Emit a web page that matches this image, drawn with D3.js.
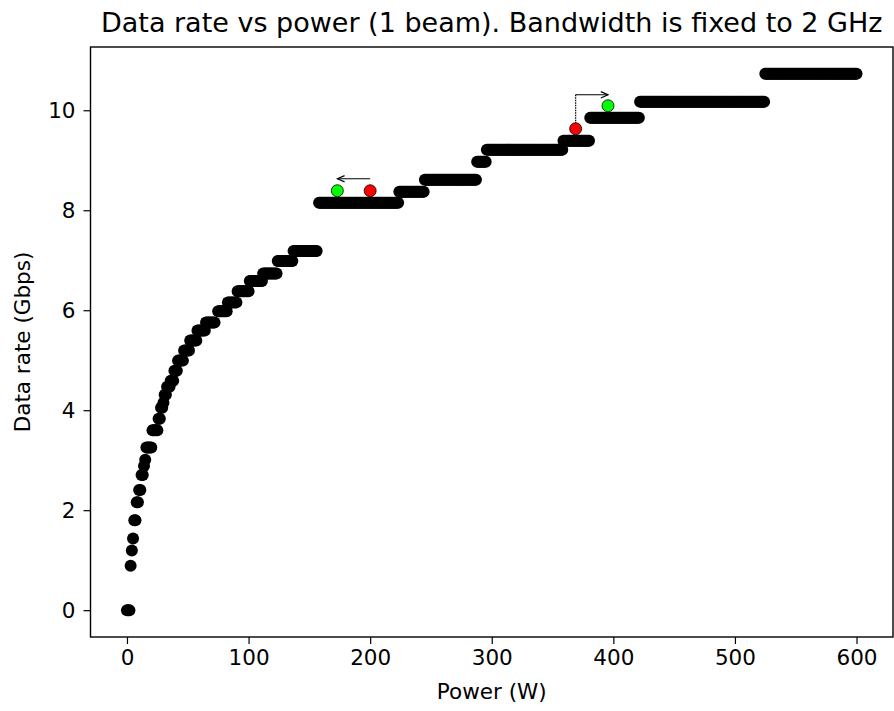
<!DOCTYPE html>
<html>
<head>
<meta charset="utf-8">
<script src="https://cdn.jsdelivr.net/npm/d3@7"></script>
<style>
  body { margin: 0; background: #fff; }
  text { font-family: "DejaVu Sans", sans-serif; fill: #000; }
</style>
</head>
<body>
<svg width="894" height="711"></svg>
<script>
// rate plateaus (Gbps) and the power range (W) where each one holds
var levelRate  = [0, 0.891, 1.194, 1.435, 1.798, 2.161, 2.404, 2.704, 2.886, 3.008, 3.252, 3.601, 3.827, 4.051, 4.148, 4.309,
                  4.470, 4.590, 4.791, 4.992, 5.193, 5.394, 5.595, 5.756, 5.981, 6.157, 6.382, 6.583, 6.733, 6.984, 7.185,
                  8.150, 8.369, 8.610, 8.970, 9.210, 9.388, 9.850, 10.169, 10.729];
var levelStart = [0, 3, 4, 5, 6, 8, 10, 12, 14, 15, 16, 21, 26, 28, 30, 31,
                  33, 36, 39, 42, 47, 52, 58, 65, 75, 83, 91, 101, 112, 124, 137,
                  158, 224, 245, 288, 296, 359, 381, 422, 525];
var levelEnd   = [2, 3, 4, 5, 7, 9, 11, 13, 14, 15, 20, 25, 27, 29, 30, 32,
                  35, 38, 41, 46, 51, 57, 64, 72, 82, 90, 100, 111, 123, 136, 156,
                  223, 244, 287, 295, 358, 380, 421, 524, 600];

// highlighted operating points
var redPower   = [200, 369];
var redRate    = [8.39, 9.63];
var greenPower = [173, 395.6];
var greenRate  = [8.39, 10.09];
var arrowRate  = [8.63, 10.31];

var xTicks = [0, 100, 200, 300, 400, 500, 600];
var yTicks = [0, 2, 4, 6, 8, 10];

// one sample per watt
var data = [];
levelRate.forEach(function(r, i) {
  for (var p = levelStart[i]; p <= levelEnd[i]; p++) data.push({power: p, rate: r});
});

var svg = d3.select("svg"),
    margin = {top: 47, right: 1, bottom: 74, left: 90.5},
    width = +svg.attr("width") - margin.left - margin.right,
    height = +svg.attr("height") - margin.top - margin.bottom,
    g = svg.append("g").attr("transform", "translate(" + margin.left + "," + margin.top + ")");

// matplotlib style 5% margins
var xMax = d3.max(data, function(d) { return d.power; }),
    yMax = d3.max(data, function(d) { return d.rate; });
var x = d3.scaleLinear()
          .domain([-0.05 * xMax, 1.05 * xMax])
          .range([0, width]);
var y = d3.scaleLinear()
          .domain([-0.05 * yMax, 1.05 * yMax])
          .range([height, 0]);

svg.append("defs").append("marker")
   .attr("id", "head")
   .attr("viewBox", "0 0 10 10")
   .attr("refX", 9).attr("refY", 5)
   .attr("markerWidth", 9).attr("markerHeight", 9)
   .attr("markerUnits", "userSpaceOnUse")
   .attr("orient", "auto")
   .append("path")
   .attr("d", "M1,1.5 L9,5 L1,8.5")
   .attr("fill", "none")
   .attr("stroke", "#000")
   .attr("stroke-width", 1.3);

g.selectAll(".dot")
 .data(data)
 .enter().append("circle")
 .attr("class", "dot")
 .attr("cx", function(d) { return x(d.power); })
 .attr("cy", function(d) { return y(d.rate); })
 .attr("r", 6)
 .attr("fill", "#000");

// arrow 1: red -> green, pointing left
g.append("line")
 .attr("x1", x(redPower[0])).attr("y1", y(arrowRate[0]))
 .attr("x2", x(greenPower[0])).attr("y2", y(arrowRate[0]))
 .attr("stroke", "#000").attr("stroke-width", 1.2)
 .attr("marker-end", "url(#head)");

// arrow 2: dotted up from red, then right to green
g.append("line")
 .attr("x1", x(redPower[1])).attr("y1", y(redRate[1]))
 .attr("x2", x(redPower[1])).attr("y2", y(arrowRate[1]))
 .attr("stroke", "#000").attr("stroke-width", 1.2)
 .attr("stroke-dasharray", "1.5,1");
g.append("line")
 .attr("x1", x(redPower[1])).attr("y1", y(arrowRate[1]))
 .attr("x2", x(greenPower[1])).attr("y2", y(arrowRate[1]))
 .attr("stroke", "#000").attr("stroke-width", 1.2)
 .attr("marker-end", "url(#head)");

g.selectAll(".red")
 .data(redPower)
 .enter().append("circle")
 .attr("class", "red")
 .attr("cx", function(d) { return x(d); })
 .attr("cy", function(d, i) { return y(redRate[i]); })
 .attr("r", 6)
 .attr("fill", "#ff0000")
 .attr("stroke", "#000")
 .attr("stroke-width", 0.8);

g.selectAll(".green")
 .data(greenPower)
 .enter().append("circle")
 .attr("class", "green")
 .attr("cx", function(d) { return x(d); })
 .attr("cy", function(d, i) { return y(greenRate[i]); })
 .attr("r", 6)
 .attr("fill", "#00ff00")
 .attr("stroke", "#000")
 .attr("stroke-width", 0.8);

var xAxis = g.append("g")
 .attr("class", "axis axis--x")
 .attr("transform", "translate(0," + height + ")")
 .call(d3.axisBottom(x).tickValues(xTicks).tickSize(7).tickSizeOuter(0).tickPadding(6));

var yAxis = g.append("g")
 .attr("class", "axis axis--y")
 .call(d3.axisLeft(y).tickValues(yTicks).tickSize(7).tickSizeOuter(0).tickPadding(8));

g.selectAll(".axis .domain").remove();
g.selectAll(".axis text").attr("font-size", 21.5).attr("font-family", "DejaVu Sans").attr("fill", "#000");
g.selectAll(".axis line").attr("stroke", "#000").attr("stroke-width", 1.2);

// frame (spines)
g.append("rect")
 .attr("width", width).attr("height", height)
 .attr("fill", "none")
 .attr("stroke", "#000")
 .attr("stroke-width", 1.4);

svg.append("text")
   .attr("x", margin.left + width / 2)
   .attr("y", 32)
   .attr("text-anchor", "middle")
   .attr("font-size", 27)
   .text("Data rate vs power (1 beam). Bandwidth is fixed to 2 GHz");

svg.append("text")
   .attr("x", margin.left + width / 2)
   .attr("y", 699)
   .attr("text-anchor", "middle")
   .attr("font-size", 21.5)
   .text("Power (W)");

svg.append("text")
   .attr("transform", "translate(30," + (margin.top + height / 2) + ") rotate(-90)")
   .attr("text-anchor", "middle")
   .attr("font-size", 21.5)
   .text("Data rate (Gbps)");
</script>
</body>
</html>
